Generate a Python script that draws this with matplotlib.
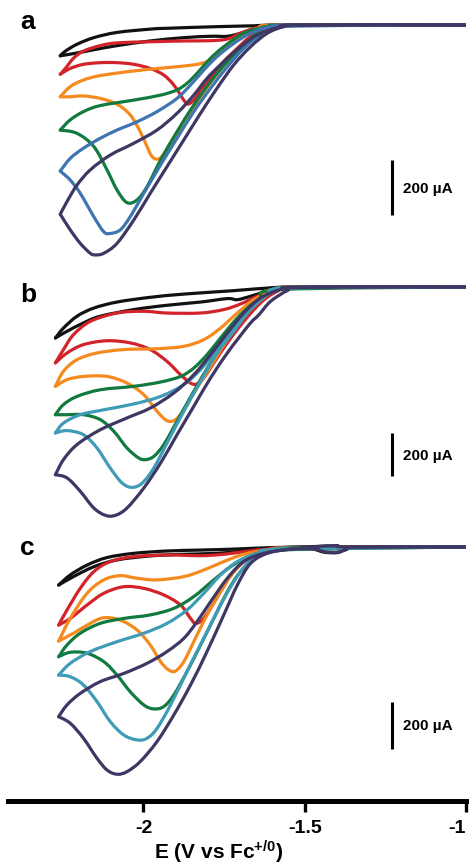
import matplotlib
matplotlib.use('Agg')
import matplotlib.pyplot as plt
import numpy as np
from matplotlib.path import Path
from matplotlib.patches import PathPatch

plt.rcParams['font.family'] = ['Liberation Sans', 'DejaVu Sans']
plt.rcParams['font.weight'] = 'bold'
plt.rcParams['mathtext.fontset'] = 'custom'
plt.rcParams['mathtext.bf'] = 'Liberation Sans:bold'
plt.rcParams['mathtext.default'] = 'bf'

# ---- CV loops: potential E (V vs Fc+/0) and current I (uA) ----
# each loop: cathodic sweep from -1.0 V to the switching potential, then back

# panel a
a_black_E = [-1.00, -1.50, -1.616, -1.772, -1.927, -1.979, -2.082, -2.154, -2.206, -2.242, -2.258,
             -2.217, -2.154, -2.082, -1.979, -1.875, -1.792, -1.740, -1.699, -1.647, -1.585, -1.00]
a_black_I = [0, 0, -2, -6, -12, -15, -27, -46, -70, -95, -112,
             -104, -90, -75, -58, -46, -41, -41, -30, -10, 0, 0]
a_red_E = [-1.00, -1.544, -1.616, -1.668, -1.709, -1.751, -1.792, -1.823, -1.839, -1.859, -1.870, -1.885, -1.906,
           -1.937, -1.979, -2.030, -2.082, -2.134, -2.186, -2.227, -2.258,
           -2.242, -2.217, -2.186, -2.134, -2.082, -1.979, -1.875, -1.792, -1.740, -1.699, -1.647, -1.565, -1.00]
a_red_I = [0, 0, -12, -42, -85, -133, -194, -236, -267, -287, -281, -255, -218,
           -182, -158, -143, -137, -137, -143, -158, -179,
           -158, -121, -95, -75, -65, -61, -58, -57, -51, -30, -10, 0, 0]
a_orange_E = [-1.00, -1.565, -1.627, -1.678, -1.730, -1.782, -1.834, -1.875, -1.906, -1.932, -1.953, -1.973,
              -1.989, -2.010, -2.041, -2.082, -2.134, -2.186, -2.227, -2.258,
              -2.227, -2.186, -2.134, -2.030, -1.927, -1.844, -1.803, -1.772, -1.740, -1.699, -1.647, -1.565, -1.00]
a_orange_I = [0, 0, -18, -61, -121, -194, -279, -352, -412, -461, -487, -479,
              -442, -388, -327, -288, -267, -258, -261, -261,
              -224, -200, -184, -167, -155, -145, -133, -109, -79, -42, -12, 0, 0]
a_green_E = [-1.00, -1.565, -1.637, -1.689, -1.740, -1.792, -1.844, -1.896, -1.947, -1.989, -2.020, -2.051,
             -2.082, -2.113, -2.154, -2.206, -2.258,
             -2.227, -2.186, -2.134, -2.030, -1.947, -1.896, -1.865, -1.834, -1.792, -1.751, -1.689, -1.616,
             -1.544, -1.00]
a_green_I = [0, -2, -24, -73, -133, -206, -291, -388, -491, -588, -636, -646,
             -600, -527, -442, -394, -382,
             -345, -315, -293, -273, -255, -236, -212, -176, -121, -79, -30, -6,
             0, 0]
a_blue_E = [-1.00, -1.575, -1.637, -1.689, -1.740, -1.792, -1.844, -1.896, -1.947, -1.999, -2.041, -2.072,
            -2.103, -2.123, -2.154, -2.196, -2.227, -2.258,
            -2.227, -2.186, -2.134, -2.082, -2.020, -1.958, -1.896, -1.854, -1.813, -1.772, -1.720, -1.668,
            -1.606, -1.523, -1.00]
a_blue_I = [0, -6, -36, -85, -152, -230, -315, -412, -509, -612, -697, -745,
            -758, -752, -697, -612, -564, -531,
            -485, -448, -412, -382, -352, -315, -267, -218, -164, -115, -67, -30,
            -6, 0, 0]
a_purple_E = [-1.00, -1.513, -1.565, -1.616, -1.668, -1.720, -1.772, -1.823, -1.875, -1.927, -1.979, -2.030,
              -2.082, -2.123, -2.149, -2.165, -2.196, -2.227, -2.258,
              -2.237, -2.206, -2.165, -2.103, -2.030, -1.958, -1.896, -1.844, -1.803, -1.751, -1.699, -1.647,
              -1.585, -1.513, -1.00]
a_purple_I = [0, 0, -6, -30, -79, -145, -230, -321, -418, -515, -612, -709,
              -794, -830, -836, -830, -794, -745, -688,
              -642, -582, -527, -473, -430, -382, -321, -255, -194, -133, -79, -36,
              -10, 0, 0]

# panel b
b_black_E = [-1.00, -1.513, -1.616, -1.720, -1.875, -1.979, -2.082, -2.154, -2.206, -2.248, -2.273,
             -2.237, -2.186, -2.134, -2.030, -1.927, -1.823, -1.740, -1.709, -1.668, -1.616, -1.565, -1.00]
b_black_I = [0, 0, -5, -17, -33, -48, -70, -98, -136, -191, -237,
             -206, -167, -136, -105, -85, -70, -54, -59, -43, -20, -5, 0]
b_red_E = [-1.00, -1.523, -1.585, -1.637, -1.689, -1.740, -1.782, -1.813, -1.834, -1.854, -1.885, -1.927,
           -1.979, -2.041, -2.113, -2.186, -2.237, -2.273,
           -2.248, -2.217, -2.165, -2.082, -1.999, -1.927, -1.823, -1.751, -1.699, -1.647, -1.585, -1.523, -1.00]
b_red_I = [0, 0, -20, -74, -160, -260, -353, -423, -451, -447, -408, -346,
           -291, -260, -250, -268, -307, -353,
           -291, -222, -160, -121, -113, -121, -121, -105, -79, -43, -12, 0, 0]
b_orange_E = [-1.00, -1.565, -1.627, -1.678, -1.730, -1.782, -1.834, -1.875, -1.901, -1.927, -1.958, -1.999,
              -2.051, -2.113, -2.186, -2.237, -2.273,
              -2.248, -2.206, -2.144, -2.061, -1.958, -1.875, -1.813, -1.761, -1.709, -1.658, -1.596, -1.523, -1.00]
b_orange_I = [0, -9, -51, -121, -222, -346, -470, -571, -617, -622, -578, -501,
              -447, -416, -416, -431, -462,
              -392, -338, -307, -291, -287, -276, -245, -191, -121, -59, -17, 0, 0]
b_green_E = [-1.00, -1.575, -1.637, -1.689, -1.740, -1.792, -1.844, -1.896, -1.937, -1.968, -1.994, -2.015,
             -2.051, -2.092, -2.134, -2.186, -2.237, -2.273,
             -2.248, -2.206, -2.134, -2.030, -1.947, -1.885, -1.844, -1.803, -1.761, -1.709, -1.658, -1.596,
             -1.523, -1.00]
b_green_I = [0, -12, -59, -136, -237, -353, -485, -625, -733, -788, -803, -795,
             -749, -671, -617, -594, -594, -594,
             -547, -509, -478, -462, -442, -416, -377, -315, -237, -144, -74, -20,
             0, 0]
b_teal_E = [-1.00, -1.533, -1.606, -1.668, -1.720, -1.772, -1.823, -1.875, -1.927, -1.968, -2.004, -2.035,
            -2.066, -2.103, -2.144, -2.186, -2.237, -2.273,
            -2.248, -2.196, -2.123, -2.030, -1.947, -1.875, -1.823, -1.772, -1.720, -1.668, -1.616, -1.544, -1.00]
b_teal_I = [0, -2, -28, -105, -206, -307, -439, -578, -726, -842, -912, -932,
            -912, -842, -749, -687, -668, -679,
            -633, -594, -571, -544, -509, -454, -384, -291, -191, -98, -36, -5, 0]
b_purple_E = [-1.00, -1.513, -1.554, -1.606, -1.642, -1.668, -1.709, -1.740, -1.792, -1.844, -1.896, -1.947,
              -1.999, -2.051, -2.087, -2.118, -2.154, -2.196, -2.237, -2.273,
              -2.248, -2.206, -2.134, -2.051, -1.979, -1.906, -1.844, -1.792, -1.740, -1.689, -1.637, -1.575,
              -1.513, -1.00]
b_purple_I = [0, -2, -17, -67, -129, -167, -245, -307, -423, -555, -687, -819,
              -935, -1028, -1062, -1062, -1028, -950, -888, -873,
              -803, -733, -664, -609, -563, -493, -408, -315, -214, -121, -51, -12,
              0, 0]

# panel c
c_black_E = [-1.00, -1.36, -1.40, -1.45, -1.513, -1.616, -1.720, -1.823, -1.927, -2.030, -2.113, -2.175, -2.227,
             -2.263,
             -2.217, -2.154, -2.082, -1.979, -1.875, -1.772, -1.689, -1.616, -1.513, -1.47, -1.44, -1.40, -1.37,
             -1.34, -1.00]
c_black_I = [0, 0, 5, 3, 0, -3, -9, -13, -17, -27, -45, -77, -119,
             -162,
             -126, -84, -55, -38, -31, -27, -17, -6, -1, -10, -22, -24, -10,
             0, 0]
c_red_E = [-1.00, -1.544, -1.616, -1.668, -1.720, -1.761, -1.792, -1.818, -1.839, -1.854, -1.885, -1.937,
           -1.999, -2.061, -2.123, -2.175, -2.227, -2.263,
           -2.237, -2.196, -2.154, -2.103, -2.030, -1.927, -1.823, -1.751, -1.689, -1.616, -1.513, -1.00]
c_red_I = [0, -3, -13, -41, -105, -190, -261, -311, -325, -304, -247, -204,
           -176, -169, -197, -247, -304, -332,
           -268, -176, -105, -62, -41, -34, -37, -31, -20, -9, -3, 0]
c_orange_E = [-1.00, -1.523, -1.606, -1.668, -1.720, -1.761, -1.803, -1.844, -1.875, -1.901, -1.922, -1.947,
              -1.979, -2.020, -2.072, -2.123, -2.165, -2.217, -2.263,
              -2.227, -2.175, -2.123, -2.072, -2.020, -1.958, -1.875, -1.813, -1.751, -1.689, -1.616, -1.523,
              -1.00]
c_orange_I = [0, -3, -13, -41, -105, -190, -289, -403, -488, -528, -523, -488,
              -417, -353, -311, -301, -325, -367, -400,
              -304, -197, -140, -122, -133, -140, -126, -98, -62, -31, -13, -3,
              0]
c_green_E = [-1.00, -1.575, -1.647, -1.699, -1.740, -1.782, -1.823, -1.865, -1.906, -1.937, -1.968, -1.999,
             -2.041, -2.082, -2.123, -2.175, -2.227, -2.263,
             -2.237, -2.196, -2.134, -2.061, -1.979, -1.906, -1.844, -1.782, -1.730, -1.668, -1.596, -1.523, -1.00]
c_green_I = [0, -13, -41, -105, -190, -304, -417, -530, -630, -679, -689, -672,
             -616, -545, -488, -452, -448, -467,
             -417, -367, -325, -304, -289, -261, -211, -140, -84, -37, -13, -3, 0]
c_teal_E = [-1.00, -1.544, -1.627, -1.678, -1.720, -1.761, -1.813, -1.865, -1.916, -1.958, -1.989, -2.020,
            -2.061, -2.103, -2.144, -2.186, -2.227, -2.263,
            -2.227, -2.165, -2.082, -1.999, -1.927, -1.865, -1.813, -1.761, -1.709, -1.647, -1.565, -1.00]
c_teal_I = [0, -6, -27, -70, -148, -247, -389, -530, -672, -772, -814, -821,
            -800, -743, -658, -587, -552, -545,
            -495, -445, -403, -367, -325, -268, -197, -119, -62, -27, -9, 0]
c_purple_E = [-1.00, -1.34, -1.37, -1.40, -1.44, -1.47, -1.544, -1.616, -1.668, -1.709, -1.751, -1.803,
              -1.854, -1.906, -1.958, -2.010, -2.051, -2.082, -2.113, -2.144, -2.186, -2.227, -2.263,
              -2.237, -2.196, -2.134, -2.061, -1.989, -1.927, -1.875, -1.834, -1.792, -1.740, -1.689, -1.627,
              -1.544, -1.45, -1.40, -1.36, -1.00]
c_purple_I = [0, 0, -10, -22, -20, -8, -9, -27, -70, -162, -289, -445,
              -587, -715, -828, -913, -956, -967, -949, -899, -814, -750, -722,
              -672, -623, -573, -538, -495, -445, -389, -318, -233, -133, -62, -27,
              -9, 3, 4, 0, 0]

scale_bar_uA = 200
panel_labels = ['a', 'b', 'c']
x_ticks = [-2, -1.5, -1]
x_ticklabels = ['-2', '-1.5', '-1']

# ---- styling ----
BLACK = '#111111'
RED = '#d2232a'
ORANGE = '#f58a1f'
GREEN = '#127a3e'
BLUE = '#3d75b0'
TEAL = '#3f9bb6'
PURPLE = '#3f3763'

panels = [
    [(a_black_E, a_black_I, BLACK), (a_red_E, a_red_I, RED), (a_orange_E, a_orange_I, ORANGE),
     (a_green_E, a_green_I, GREEN), (a_blue_E, a_blue_I, BLUE), (a_purple_E, a_purple_I, PURPLE)],
    [(b_black_E, b_black_I, BLACK), (b_red_E, b_red_I, RED), (b_orange_E, b_orange_I, ORANGE),
     (b_green_E, b_green_I, GREEN), (b_teal_E, b_teal_I, TEAL), (b_purple_E, b_purple_I, PURPLE)],
    [(c_black_E, c_black_I, BLACK), (c_red_E, c_red_I, RED), (c_orange_E, c_orange_I, ORANGE),
     (c_green_E, c_green_I, GREEN), (c_teal_E, c_teal_I, TEAL), (c_purple_E, c_purple_I, PURPLE)],
]


def smooth_branch(pts):
    """Bezier path through every point (Catmull-Rom tangents)."""
    n = len(pts)
    verts = [pts[0]]
    codes = [Path.MOVETO]
    for i in range(n - 1):
        p_prev = pts[max(i - 1, 0)]
        p_next2 = pts[min(i + 2, n - 1)]
        c1 = pts[i] + (pts[i + 1] - p_prev) / 6.0
        c2 = pts[i + 1] - (p_next2 - pts[i]) / 6.0
        verts += [c1, c2, pts[i + 1]]
        codes += [Path.CURVE4] * 3
    return Path(verts, codes)


def draw_loop(ax, E, I, color):
    pts = np.column_stack([E, I]).astype(float)
    tip = int(np.argmin(pts[:, 0]))  # switching potential splits the two sweeps
    for branch in (pts[:tip + 1], pts[tip:]):
        ax.add_patch(PathPatch(smooth_branch(branch), fill=False, edgecolor=color, lw=2.3,
                               joinstyle='round', capstyle='round'))


# layout in pixels: axes top, axes bottom, zero-current row, px per uA
W, H = 472, 866
frames = [(8, 270, 25, 0.275), (272, 530, 287, 0.215), (532, 801, 547, 0.235)]
bar_top_px = [160, 433, 702]
bar_text_px = [193, 460, 730]
label_px = [29, 302, 555]
BAR_E = -1.230

fig = plt.figure(figsize=(W / 100, H / 100), dpi=100)

for k, (curves, (top, bot, base, ppu)) in enumerate(zip(panels, frames)):
    ax = fig.add_axes([8 / W, 1 - bot / H, (466 - 8) / W, (bot - top) / H])
    ax.set_xlim(-2.42, -1.0)
    ax.set_ylim(-(bot - base) / ppu, (base - top) / ppu)
    for E, I, col in curves:
        draw_loop(ax, E, I, col)

    # 200 uA scale bar
    y0 = -(bar_top_px[k] - base) / ppu
    ax.plot([BAR_E, BAR_E], [y0, y0 - scale_bar_uA], color='black', lw=2.2, solid_capstyle='butt')
    fig.text(403 / W, 1 - bar_text_px[k] / H, f'{scale_bar_uA} µA', fontsize=11,
             fontweight='bold', ha='left', va='baseline')
    fig.text(20 / W, 1 - label_px[k] / H, panel_labels[k], fontsize=19,
             fontweight='bold', ha='left', va='baseline')

    if k < 2:
        ax.axis('off')
    else:
        for s in ['top', 'left', 'right']:
            ax.spines[s].set_visible(False)
        ax.spines['bottom'].set_linewidth(3.6)
        ax.set_yticks([])
        ax.set_xticks(x_ticks)
        ax.set_xticklabels(x_ticklabels)
        ax.tick_params(axis='x', direction='out', length=8, width=2.4, labelsize=14, pad=6)
        ax.get_xticklabels()[-1].set_horizontalalignment('right')

fig.text(219 / W, 1 - 859 / H, 'E (V vs Fc$^{+/0}$)', fontsize=15, fontweight='bold',
         ha='center', va='baseline')

fig.savefig('out.png', dpi=100)
